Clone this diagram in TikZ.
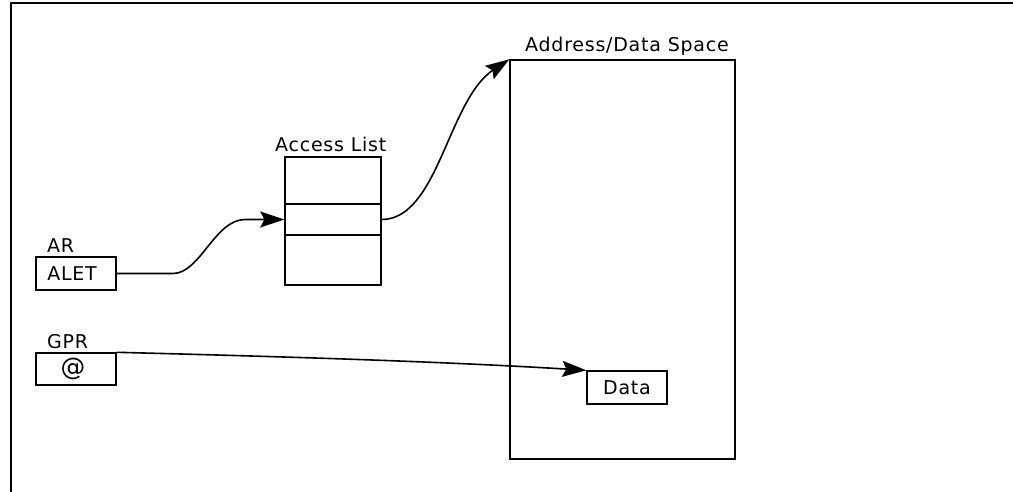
\documentclass[tikz,border=0pt]{standalone}
\usepackage{fontspec}
\setmainfont{DejaVu Sans}[LetterSpace=4]
\usetikzlibrary{arrows.meta}
\begin{document}
\begin{tikzpicture}[x=1pt,y=-1pt,
  every node/.style={font=\fontsize{19}{22}\selectfont, inner sep=0pt},
  box/.style={draw, line width=1.4pt, rectangle},
  lbl/.style={anchor=base west},
  arr/.style={line width=1.6pt, -{Stealth[length=24pt,width=16pt,inset=4pt]}},
  frame/.style={line width=2.2pt}]
\useasboundingbox (0,0) rectangle (1013,492);

% outer frame: top and left edges only
\coordinate (ftl) at (11,3);
\coordinate (ftr) at (1013,3);
\coordinate (fbl) at (11,492);
\draw[frame] (fbl) -- (ftl) -- (ftr);

% registers
\node[box, minimum width=80pt, minimum height=33pt] (alet) at (76,273.5) {};
\node at (72,273.5) {ALET};
\node[lbl] (ar) at (47,252) {AR};

\node[box, minimum width=80pt, minimum height=32pt] (gpr) at (76,369) {};
\node at (73,369) {\scalebox{1.3}{@}};
\node[lbl] (gprl) at (47,348) {GPR};

% access list with three entries
\node[box, minimum width=96pt, minimum height=47pt] (acc1) at (333,180.5) {};
\node[box, minimum width=96pt, minimum height=31pt] (acc2) at (333,219.5) {};
\node[box, minimum width=96pt, minimum height=50pt] (acc3) at (333,260) {};
\node[lbl] (accl) at (275,152) {Access List};

% address/data space
\node[box, minimum width=225pt, minimum height=399pt] (space) at (622.5,259.5) {};
\node[lbl] (spacel) at (525,52) {Address/Data Space};
\node[box, minimum width=80pt, minimum height=33pt] (data) at (627,387.5) {};
\node at (627,387.5) {Data};

% connectors
\coordinate (c1) at (173,273.5);
\coordinate (c2) at (245,219.5);
\draw[arr] (alet.east) -- (c1) .. controls (200,273.5) and (215,219.5) .. (c2) -- (acc2.west);

\draw[arr] (acc2.east) .. controls (438,219.5) and (448,100) .. (space.north west);

\draw[arr] (gpr.north east) .. controls (300,357) and (450,362) .. (data.north west);
\end{tikzpicture}
\end{document}
